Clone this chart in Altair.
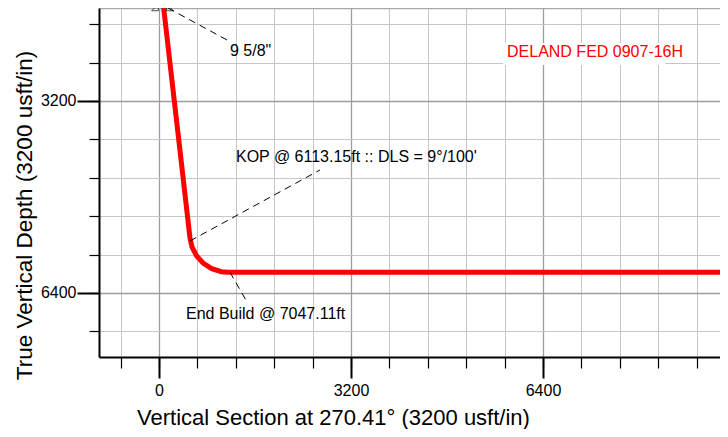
import altair as alt
import pandas as pd

# ---- data (usft) ----
# well path: vertical section vs true vertical depth
path_vs = [55, 517, 551, 628, 740, 880, 1039, 1150, 10000]
path_tvd = [1450, 5490, 5636, 5783, 5906, 5995, 6045, 6054, 6054]

# tick values
major_ticks = [0, 3200, 6400]
minor_x_ticks = [-640, 0, 640, 1280, 1920, 2560, 3200, 3840, 4480, 5120, 5760,
                 6400, 7040, 7680, 8320, 8960, 9600]
minor_y_ticks = [1920, 2560, 3200, 3840, 4480, 5120, 5760, 6400, 7040]

# annotations
ann_text = ['9 5/8"', "KOP @ 6113.15ft :: DLS = 9°/100'", "End Build @ 7047.11ft"]
ann_vs = [1183, 1283, 450]
ann_tvd = [2367, 4133, 6750]

lead_vs1 = [150, 517, 1183]
lead_tvd1 = [1650, 5533, 6054]
lead_vs2 = [1133, 2683, 1467]
lead_tvd2 = [2183, 4350, 6550]

well_name = ["DELAND FED 0907-16H"]
well_vs = [5800]
well_tvd = [2383]
box_vs = [5733, 8433]
box_tvd = [2233, 2600]

casing_vs = [-67, 183]
casing_tvd = [1640, 1640]
casing_side = ["L", "R"]

# ---- frames ----
path_df = pd.DataFrame({"vs": path_vs, "tvd": path_tvd, "i": range(len(path_vs))})
ann_df = pd.DataFrame({"vs": ann_vs, "tvd": ann_tvd, "label": ann_text})
lead_df = pd.DataFrame({"x1": lead_vs1, "y1": lead_tvd1, "x2": lead_vs2, "y2": lead_tvd2})
well_df = pd.DataFrame({"vs": well_vs, "tvd": well_tvd, "label": well_name})
box_df = pd.DataFrame({"x1": [box_vs[0]], "x2": [box_vs[1]], "y1": [box_tvd[0]], "y2": [box_tvd[1]]})
cas_df = pd.DataFrame({"vs": casing_vs, "tvd": casing_tvd, "side": casing_side})

FONT = "Liberation Sans"
xs = alt.Scale(domain=[-1000, 9350], nice=False, zero=False)
ys = alt.Scale(domain=[1650, 7466.67], reverse=True, nice=False, zero=False)

minor_x_axis = alt.Axis(orient="bottom", values=minor_x_ticks, labels=False, domain=False,
                        tickSize=11, tickWidth=1.2, tickColor="black",
                        grid=True, gridColor="#c6c6c6", gridWidth=1, title=None)
minor_y_axis = alt.Axis(orient="left", values=minor_y_ticks, labels=False, domain=False,
                        tickSize=10, tickWidth=1.2, tickColor="black",
                        grid=True, gridColor="#c6c6c6", gridWidth=1, title=None)

major_x_axis = alt.Axis(orient="bottom", values=major_ticks, format="d",
                        tickSize=21, tickWidth=2, tickColor="black",
                        domain=True, domainColor="black", domainWidth=2,
                        grid=True, gridColor="#9c9c9c", gridWidth=1.3,
                        labelFont=FONT, labelFontSize=16, labelColor="black", labelPadding=4,
                        labelFlush=False,
                        title="Vertical Section at 270.41° (3200 usft/in)",
                        titleFont=FONT, titleFontSize=22, titleFontWeight="normal",
                        titleColor="black", titleX=234, titleY=67,
                        titleAlign="center", titleBaseline="alphabetic")
major_y_axis = alt.Axis(orient="left", values=major_ticks, format="d",
                        tickSize=22, tickWidth=2, tickColor="black",
                        domain=True, domainColor="black", domainWidth=2,
                        grid=True, gridColor="#9c9c9c", gridWidth=1.3,
                        labelFont=FONT, labelFontSize=16, labelColor="black", labelPadding=1,
                        labelFlush=False,
                        title="True Vertical Depth (3200 usft/in)",
                        titleFont=FONT, titleFontSize=22.5, titleFontWeight="normal",
                        titleColor="black", titleAngle=270, titleX=-68, titleY=207,
                        titleAlign="center", titleBaseline="alphabetic")
top_axis = alt.Axis(orient="top", values=major_ticks, labels=False, ticks=False, grid=False,
                    domain=True, domainColor="#a8a8a8", domainWidth=1.5, title=None)

line = alt.Chart(path_df).mark_line(color="#ff0000", strokeWidth=5, clip=True).encode(
    x=alt.X("vs:Q", scale=xs, axis=minor_x_axis),
    y=alt.Y("tvd:Q", scale=ys, axis=minor_y_axis),
    order="i:Q",
)

leaders = alt.Chart(lead_df).mark_rule(color="black", strokeWidth=1, strokeDash=[7, 5]).encode(
    x=alt.X("x1:Q", scale=xs, axis=major_x_axis),
    x2="x2:Q",
    y=alt.Y("y1:Q", scale=ys, axis=major_y_axis),
    y2="y2:Q",
)

labels = alt.Chart(ann_df).mark_text(align="left", baseline="middle", font=FONT,
                                      fontSize=16, color="black").encode(
    x=alt.X("vs:Q", scale=xs, axis=top_axis),
    y=alt.Y("tvd:Q", scale=ys, axis=None),
    text="label:N",
)

box = alt.Chart(box_df).mark_rect(color="white").encode(
    x=alt.X("x1:Q", scale=xs, axis=None), x2="x2:Q",
    y=alt.Y("y1:Q", scale=ys, axis=None), y2="y2:Q",
)

wname = alt.Chart(well_df).mark_text(align="left", baseline="middle", font=FONT,
                                      fontSize=16, color="#ff0000").encode(
    x=alt.X("vs:Q", scale=xs, axis=None),
    y=alt.Y("tvd:Q", scale=ys, axis=None),
    text="label:N",
)

casing = alt.Chart(cas_df).mark_point(filled=False, color="black", strokeWidth=1, size=45).encode(
    x=alt.X("vs:Q", scale=xs, axis=None),
    y=alt.Y("tvd:Q", scale=ys, axis=None),
    shape=alt.Shape("side:N", scale=alt.Scale(domain=["L", "R"],
                    range=["M1,-1L1,1L-1,1Z", "M-1,-1L-1,1L1,1Z"]), legend=None),
)

chart = alt.layer(line, leaders, labels, box, wname, casing).resolve_scale(
    x="shared", y="shared"
).resolve_axis(
    x="independent", y="independent"
).properties(
    width=621, height=349,
    autosize=alt.AutoSizeParams(type="none"),
    padding={"left": 91, "top": 0, "right": 0, "bottom": 72},
).configure_view(stroke=None).configure(font=FONT)

chart.save("out.html", embed_options={"renderer": "svg", "actions": False})
